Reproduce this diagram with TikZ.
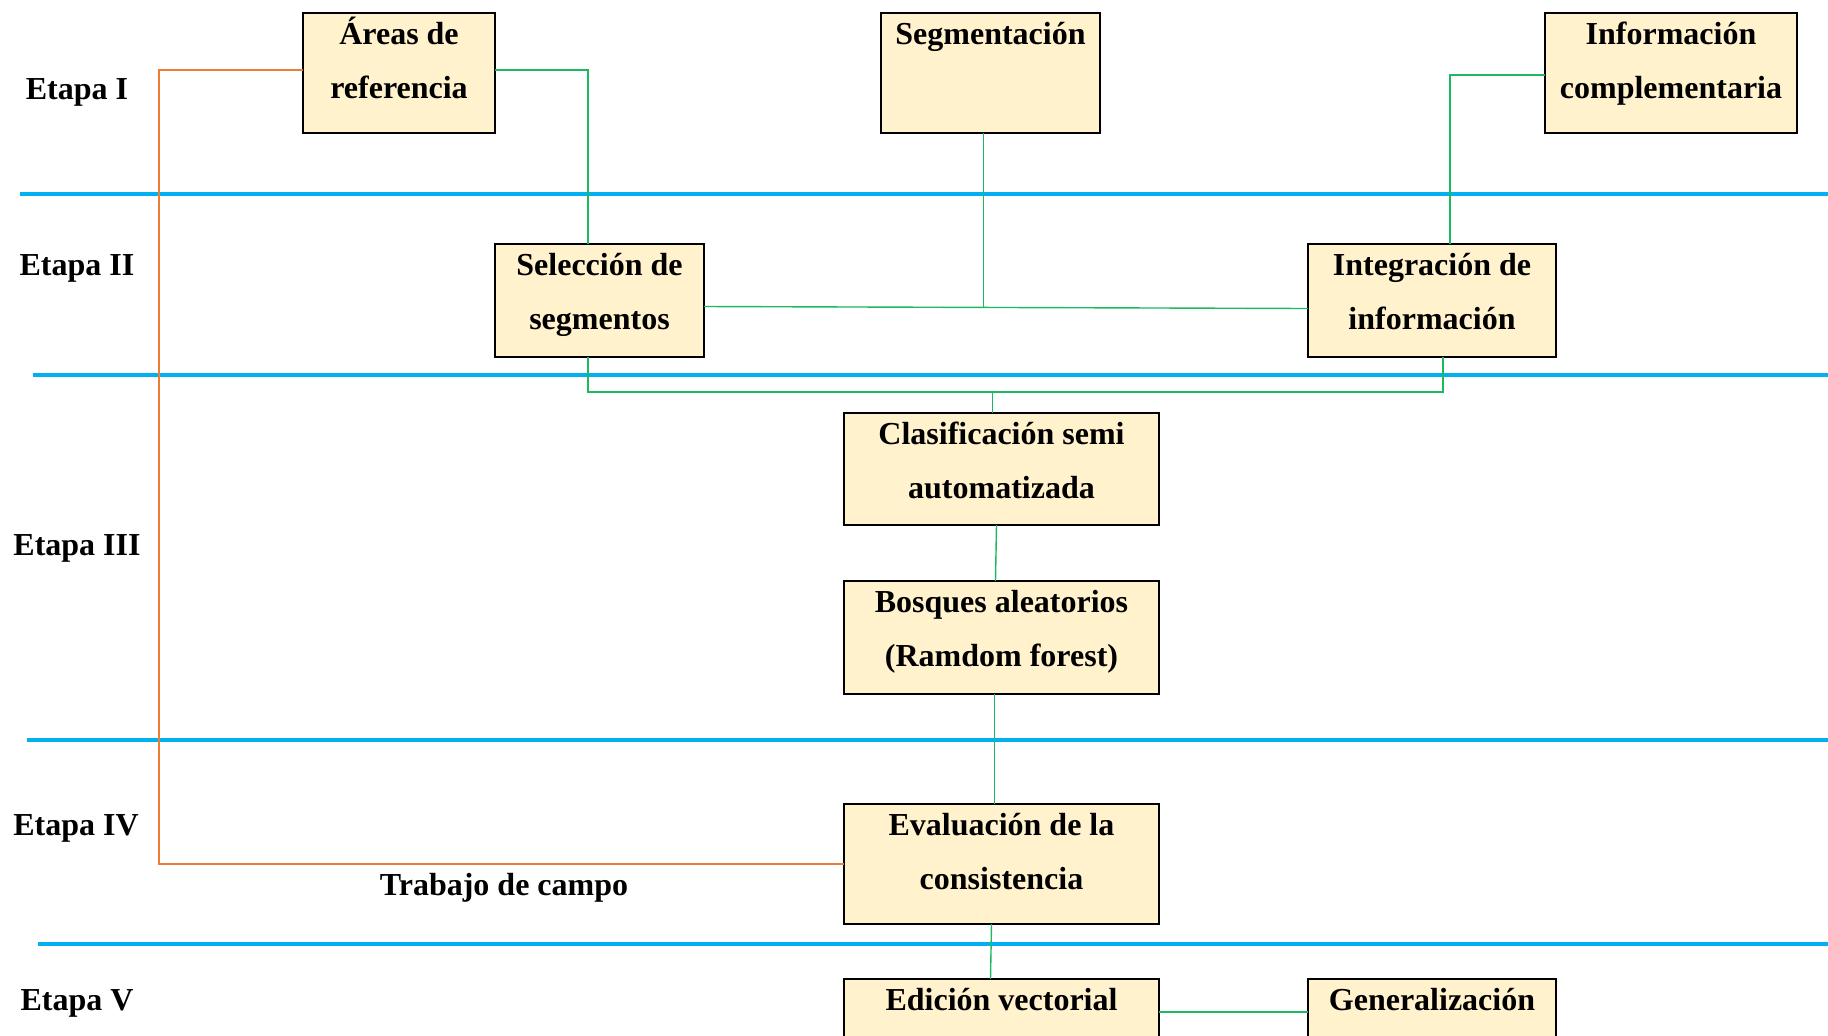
\documentclass[tikz,border=0pt]{standalone}
\usepackage{fontspec}
\setmainfont{Liberation Serif}
\definecolor{boxfill}{HTML}{FFF2CC}
\definecolor{blueln}{HTML}{00B0F0}
\definecolor{orangeln}{HTML}{ED7D31}
\definecolor{greenln}{HTML}{1DB960}
\newcommand{\bxt}[3]{\parbox[c][#2][t]{#1}{\centering\rule{0pt}{15.5pt}#3}}
\begin{document}
\begin{tikzpicture}[x=0.5pt,y=-0.5pt,
  box/.style={draw=black, line width=1pt, fill=boxfill, inner sep=0pt, outer sep=0pt,
    font=\bfseries\fontsize{16}{27}\selectfont},
  lbl/.style={font=\bfseries\fontsize{16}{27}\selectfont, anchor=base, inner sep=0pt},
  bl/.style={draw=blueln, line width=2pt},
  gl/.style={draw=greenln, line width=0.7pt},
  ol/.style={draw=orangeln, line width=0.9pt}]
\useasboundingbox (0,0) rectangle (1828,1035);
% stage separators
\draw[bl] (20,193.5) -- (1828,193.5);
\draw[bl] (33,375) -- (1828,375);
\draw[bl] (27,740) -- (1828,740);
\draw[bl] (38,944) -- (1828,944);
% stage labels
\node[lbl] (e1) at (77,99) {Etapa I};
\node[lbl] (e2) at (77,275) {Etapa II};
\node[lbl] (e3) at (77,555) {Etapa III};
\node[lbl] (e4) at (76,835) {Etapa IV};
\node[lbl] (e5) at (77,1010) {Etapa V};
\node[lbl] (tc) at (504,895) {Trabajo de campo};
% helper coordinates
\coordinate (xa) at (588,0);
\coordinate (xo) at (159,0);
\coordinate (xi) at (1450,0);
\coordinate (xi2) at (1443,0);
\coordinate (jb) at (0,392);
% boxes
\node[box] (ar) at (399,73) {\bxt{96pt}{60pt}{Áreas de\\referencia}};
\node[box] (seg) at (990.5,73) {\bxt{109.5pt}{60pt}{Segmentación}};
\node[box] (inf) at (1671,73) {\bxt{126pt}{60pt}{Información\\complementaria}};
\node[box] (sel) at (599.5,300.5) {\bxt{104.5pt}{56.5pt}{Selección de\\segmentos}};
\node[box] (int) at (1432,300.5) {\bxt{124pt}{56.5pt}{Integración de\\información}};
\node[box] (cla) at (1001.5,469) {\bxt{157.5pt}{56pt}{Clasificación semi\\automatizada}};
\node[box] (bos) at (1001.5,637.5) {\bxt{157.5pt}{56.5pt}{Bosques aleatorios\\(Ramdom forest)}};
\node[box] (eva) at (1001.5,864) {\bxt{157.5pt}{60pt}{Evaluación de la\\consistencia}};
\node[box] (edi) at (1001.5,1039) {\bxt{157.5pt}{60pt}{Edición vectorial}};
\node[box] (gen) at (1432,1039) {\bxt{124pt}{60pt}{Generalización}};
\coordinate (sj) at ([yshift=-3pt]sel.east);
\coordinate (ij) at ([yshift=-4pt]int.west);
\coordinate (ej) at ([yshift=13.5pt]edi.east);
\coordinate (gj) at ([yshift=13.5pt]gen.west);
% connectors
\draw[ol] ([yshift=1.5pt]ar.west) -- ([yshift=1.5pt]ar.west -| xo) |- (eva.west);
\draw[gl] ([yshift=1.5pt]ar.east) -| (sel.north -| xa);
\draw[gl] ([yshift=-1pt]inf.west) -| (int.north -| xi);
\draw[gl] (sj) -- (ij);
\draw[gl] ([xshift=-3.5pt]seg.south) -- ([xshift=-3.5pt]seg.south |- sj);
\draw[gl] (sel.south -| xa) |- (xi2 |- jb) -- (int.south -| xi2);
\draw[gl] ([xshift=-4.5pt]cla.north) -- ([xshift=-4.5pt]cla.north |- jb);
\draw[gl] ([xshift=-2.5pt]cla.south) -- ([xshift=-3pt]bos.north);
\draw[gl] ([xshift=-3.5pt]bos.south) -- ([xshift=-3.5pt]eva.north);
\draw[gl] ([xshift=-5pt]eva.south) -- ([xshift=-5.5pt]edi.north);
\draw[gl] (ej) -- (gj);
\end{tikzpicture}
\end{document}
